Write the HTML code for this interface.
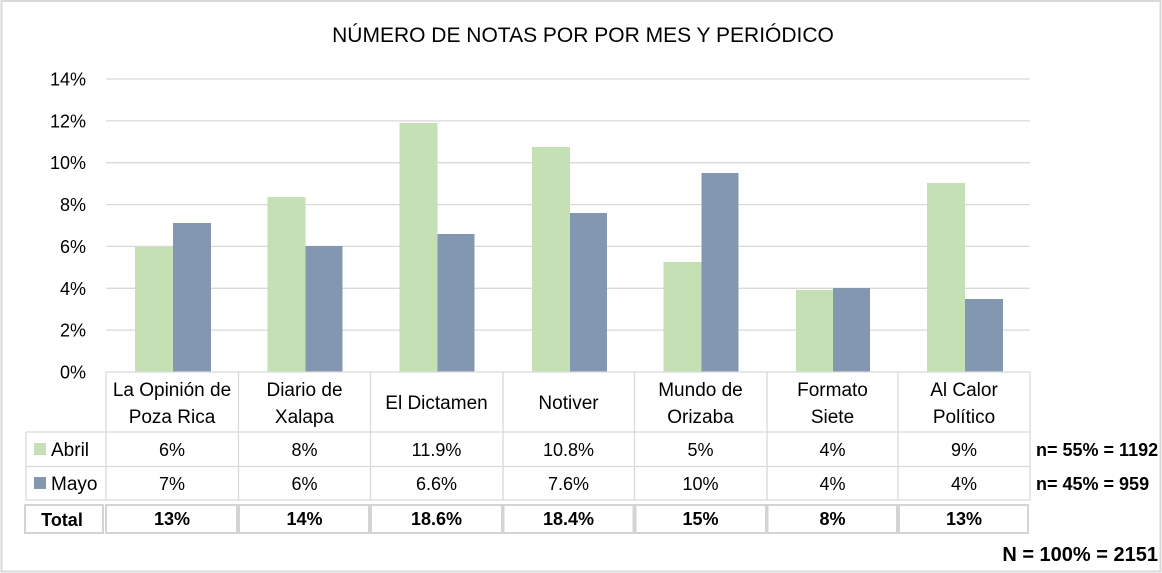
<!DOCTYPE html>
<html>
<head>
<meta charset="utf-8">
<style>
html,body{margin:0;padding:0;background:#fff;}
svg{display:block;}
text{font-family:"Liberation Sans",Arial,sans-serif;fill:#000;}
</style>
</head>
<body>
<svg width="1162" height="573" viewBox="0 0 1162 573" xmlns="http://www.w3.org/2000/svg">
<rect x="0" y="0" width="1162" height="573" fill="#fff"/>
<rect x="1.5" y="1" width="1159" height="570.5" fill="none" stroke="#d9d9d9" stroke-width="2"/>

<text x="583" y="42" font-size="21" text-anchor="middle">NÚMERO DE NOTAS POR POR MES Y PERIÓDICO</text>

<!-- gridlines -->
<g stroke="#d9d9d9" stroke-width="1.3">
<line x1="106" x2="1030" y1="79" y2="79"/>
<line x1="106" x2="1030" y1="120.9" y2="120.9"/>
<line x1="106" x2="1030" y1="162.7" y2="162.7"/>
<line x1="106" x2="1030" y1="204.6" y2="204.6"/>
<line x1="106" x2="1030" y1="246.4" y2="246.4"/>
<line x1="106" x2="1030" y1="288.3" y2="288.3"/>
<line x1="106" x2="1030" y1="330.1" y2="330.1"/>
</g>

<!-- y labels -->
<g font-size="18" text-anchor="end">
<text x="86" y="85.5">14%</text>
<text x="86" y="127.4">12%</text>
<text x="86" y="169.2">10%</text>
<text x="86" y="211.1">8%</text>
<text x="86" y="252.9">6%</text>
<text x="86" y="294.8">4%</text>
<text x="86" y="336.6">2%</text>
<text x="86" y="378.5">0%</text>
</g>

<!-- bars -->
<g fill="#c5e0b4">
<rect x="135" y="247" width="38" height="125"/>
<rect x="267.5" y="197" width="38" height="175"/>
<rect x="399.5" y="123" width="38" height="249"/>
<rect x="532" y="147" width="38" height="225"/>
<rect x="663.5" y="262" width="38" height="110"/>
<rect x="796" y="290" width="37" height="82"/>
<rect x="927" y="183" width="38" height="189"/>
</g>
<g fill="#8497b0">
<rect x="173" y="223" width="38" height="149"/>
<rect x="305.5" y="246" width="37" height="126"/>
<rect x="437.5" y="234" width="37" height="138"/>
<rect x="570" y="213" width="37" height="159"/>
<rect x="701.5" y="173" width="37" height="199"/>
<rect x="833" y="288" width="37" height="84"/>
<rect x="965" y="299" width="38" height="73"/>
</g>

<!-- table lines -->
<g stroke="#d9d9d9" stroke-width="1.3">
<line x1="106" x2="1030" y1="372" y2="372"/>
<line x1="26" x2="1030" y1="432" y2="432"/>
<line x1="26" x2="1030" y1="466.5" y2="466.5"/>
<line x1="26" x2="1030" y1="500" y2="500"/>
<line x1="26" x2="26" y1="432" y2="500"/>
<line x1="106" x2="106" y1="372" y2="500"/>
<line x1="238.5" x2="238.5" y1="372" y2="500"/>
<line x1="370.5" x2="370.5" y1="372" y2="500"/>
<line x1="503" x2="503" y1="372" y2="500"/>
<line x1="634.5" x2="634.5" y1="372" y2="500"/>
<line x1="767" x2="767" y1="372" y2="500"/>
<line x1="898" x2="898" y1="372" y2="500"/>
<line x1="1030" x2="1030" y1="372" y2="500"/>
</g>

<!-- category labels -->
<g font-size="19" text-anchor="middle">
<text x="172" y="396">La Opinión de</text>
<text x="172" y="423">Poza Rica</text>
<text x="304.5" y="396">Diario de</text>
<text x="304.5" y="423">Xalapa</text>
<text x="436.5" y="409">El Dictamen</text>
<text x="568.5" y="409">Notiver</text>
<text x="700.5" y="396">Mundo de</text>
<text x="700.5" y="423">Orizaba</text>
<text x="832.5" y="396">Formato</text>
<text x="832.5" y="423">Siete</text>
<text x="964" y="396">Al Calor</text>
<text x="964" y="423">Político</text>
</g>

<!-- legend -->
<rect x="34" y="443" width="12" height="12" fill="#c5e0b4"/>
<rect x="34" y="477" width="12" height="12" fill="#8497b0"/>
<text x="51" y="456" font-size="19">Abril</text>
<text x="51" y="490" font-size="19">Mayo</text>

<!-- values -->
<g font-size="18" text-anchor="middle">
<text x="172" y="456">6%</text>
<text x="304.5" y="456">8%</text>
<text x="436.5" y="456">11.9%</text>
<text x="568.5" y="456">10.8%</text>
<text x="700.5" y="456">5%</text>
<text x="832.5" y="456">4%</text>
<text x="964" y="456">9%</text>
<text x="172" y="490">7%</text>
<text x="304.5" y="490">6%</text>
<text x="436.5" y="490">6.6%</text>
<text x="568.5" y="490">7.6%</text>
<text x="700.5" y="490">10%</text>
<text x="832.5" y="490">4%</text>
<text x="964" y="490">4%</text>
</g>

<!-- total row -->
<g fill="none" stroke="#d4d4d4" stroke-width="2">
<rect x="25" y="505" width="78" height="28"/>
<rect x="106" y="505" width="131" height="28"/>
<rect x="239" y="505" width="130" height="28"/>
<rect x="371" y="505" width="131" height="28"/>
<rect x="503.5" y="505" width="130" height="28"/>
<rect x="635.5" y="505" width="130.5" height="28"/>
<rect x="767.5" y="505" width="129.5" height="28"/>
<rect x="899" y="505" width="129" height="28"/>
</g>
<g font-size="18" font-weight="bold" text-anchor="middle">
<text x="62" y="526">Total</text>
<text x="172" y="525">13%</text>
<text x="304.5" y="525">14%</text>
<text x="436.5" y="525">18.6%</text>
<text x="568.5" y="525">18.4%</text>
<text x="700.5" y="525">15%</text>
<text x="832.5" y="525">8%</text>
<text x="964" y="525">13%</text>
</g>

<!-- right annotations -->
<g font-weight="bold">
<text x="1036" y="456" font-size="18">n= 55% = 1192</text>
<text x="1036" y="490" font-size="18">n= 45% = 959</text>
<text x="1158" y="561" font-size="20" text-anchor="end">N = 100% = 2151</text>
</g>
</svg>
</body>
</html>
